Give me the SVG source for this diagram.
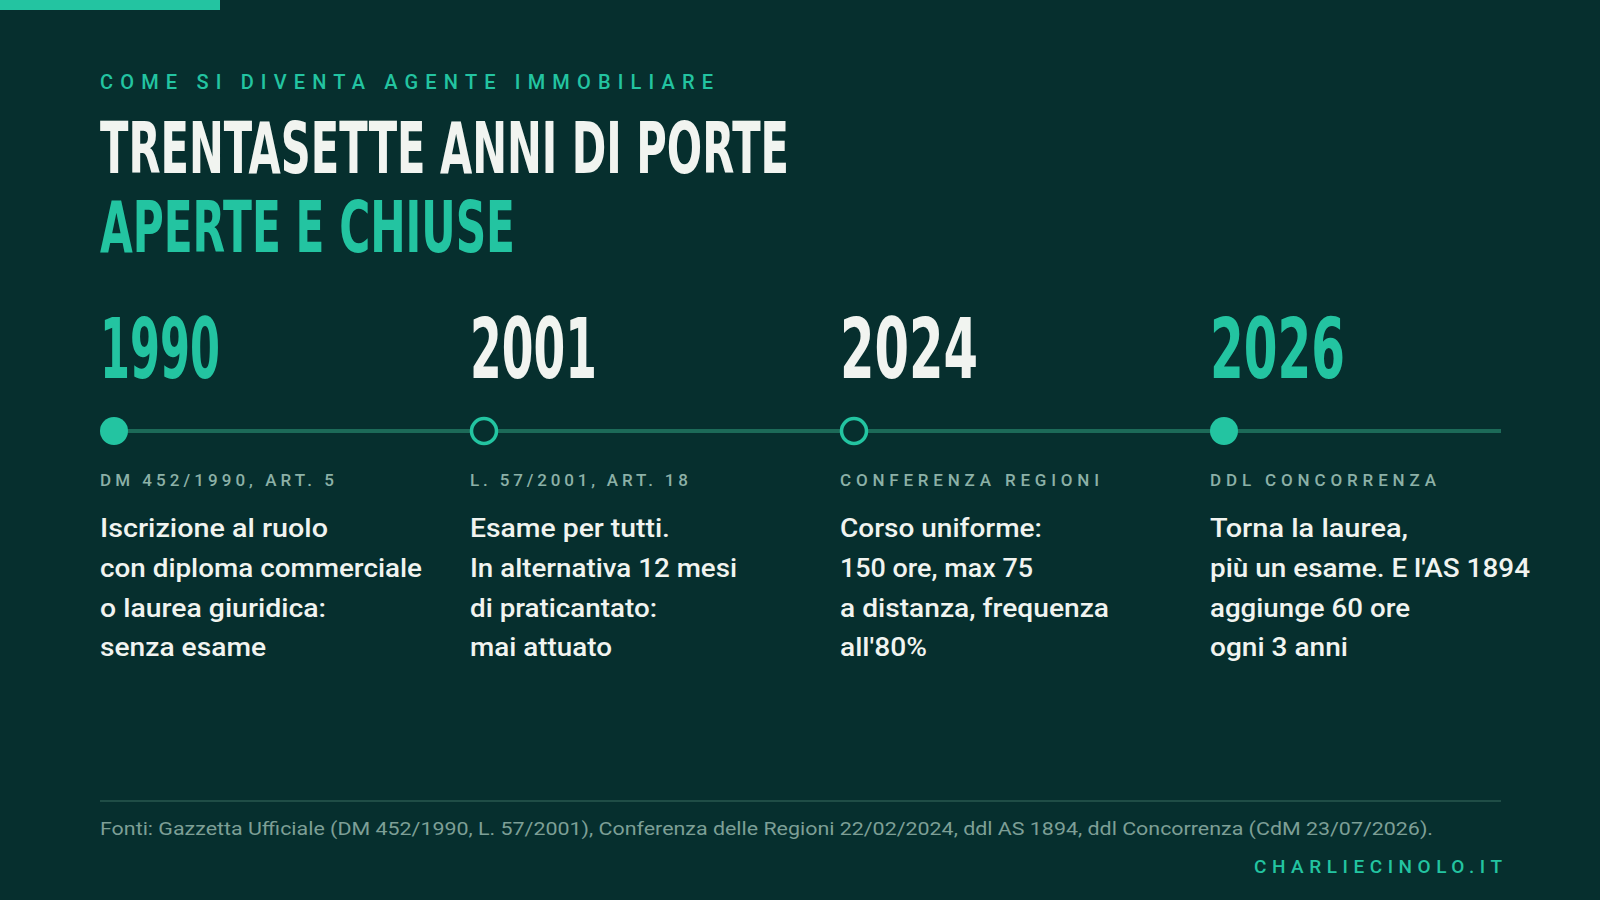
<svg xmlns="http://www.w3.org/2000/svg" width="1600" height="900" viewBox="0 0 1600 900">
  <defs>
    <style>
      .bg { fill: #062f2e; }
      .accent { fill: #23c4a1; }
      .white { fill: #f1f4f0; }
      .head { font-family: "Liberation Sans Narrow", "DejaVu Sans Condensed", "Roboto", sans-serif; font-weight: 700; }
      .kicker { font-family: "Roboto", "DejaVu Sans", sans-serif; font-size: 20px; font-weight: 500; fill: #23c4a1; }
      .title { font-size: 72px; }
      .year { font-size: 84px; }
      .label { font-family: "Roboto", "DejaVu Sans", sans-serif; font-size: 17px; font-weight: 500; fill: #8cb1a7; }
      .body { font-family: "Roboto", "DejaVu Sans", sans-serif; font-size: 26px; font-weight: 500; fill: #f1f4f0; }
      .src { font-family: "Roboto", "DejaVu Sans", sans-serif; font-size: 19px; fill: #7d9f96; }
      .brand { font-family: "Roboto", "DejaVu Sans", sans-serif; font-size: 19px; font-weight: 500; fill: #23c4a1; }
      .track { stroke: #1c6a58; stroke-width: 4; fill: none; }
      .rule { stroke: #1f4d46; stroke-width: 2; }
      .dot { fill: #23c4a1; }
      .ring { fill: #062f2e; stroke: #23c4a1; stroke-width: 3.5; }
    </style>
  </defs>

  <rect class="bg" x="0" y="0" width="1600" height="900"/>
  <rect class="accent" x="0" y="0" width="220" height="10"/>

  <g id="header">
    <text class="kicker" x="100" y="89" textLength="613">COME SI DIVENTA AGENTE IMMOBILIARE</text>
    <text class="head title white" x="100" y="173" textLength="689" lengthAdjust="spacingAndGlyphs">TRENTASETTE ANNI DI PORTE</text>
    <text class="head title accent" x="100" y="252" textLength="415" lengthAdjust="spacingAndGlyphs">APERTE E CHIUSE</text>
  </g>

  <g id="connectors">
    <line class="track" x1="114" y1="431" x2="1501" y2="431"/>
  </g>

  <g id="node-1990">
    <text class="head year accent" x="100" y="378" textLength="120" lengthAdjust="spacingAndGlyphs">1990</text>
    <circle class="dot" cx="114" cy="431" r="14"/>
    <text class="label" x="100" y="486" textLength="234">DM 452/1990, ART. 5</text>
    <text class="body" x="100" y="537" textLength="228" lengthAdjust="spacingAndGlyphs">Iscrizione al ruolo</text>
    <text class="body" x="100" y="577" textLength="322" lengthAdjust="spacingAndGlyphs">con diploma commerciale</text>
    <text class="body" x="100" y="617" textLength="226" lengthAdjust="spacingAndGlyphs">o laurea giuridica:</text>
    <text class="body" x="100" y="656" textLength="166" lengthAdjust="spacingAndGlyphs">senza esame</text>
  </g>

  <g id="node-2001">
    <text class="head year white" x="470" y="378" textLength="127" lengthAdjust="spacingAndGlyphs">2001</text>
    <circle class="ring" cx="484" cy="431" r="12.5"/>
    <text class="label" x="470" y="486" textLength="218">L. 57/2001, ART. 18</text>
    <text class="body" x="470" y="537" textLength="200" lengthAdjust="spacingAndGlyphs">Esame per tutti.</text>
    <text class="body" x="470" y="577" textLength="267" lengthAdjust="spacingAndGlyphs">In alternativa 12 mesi</text>
    <text class="body" x="470" y="617" textLength="187" lengthAdjust="spacingAndGlyphs">di praticantato:</text>
    <text class="body" x="470" y="656" textLength="142" lengthAdjust="spacingAndGlyphs">mai attuato</text>
  </g>

  <g id="node-2024">
    <text class="head year white" x="840" y="378" textLength="138" lengthAdjust="spacingAndGlyphs">2024</text>
    <circle class="ring" cx="854" cy="431" r="12.5"/>
    <text class="label" x="840" y="486" textLength="259">CONFERENZA REGIONI</text>
    <text class="body" x="840" y="537" textLength="202" lengthAdjust="spacingAndGlyphs">Corso uniforme:</text>
    <text class="body" x="840" y="577" textLength="193" lengthAdjust="spacingAndGlyphs">150 ore, max 75</text>
    <text class="body" x="840" y="617" textLength="269" lengthAdjust="spacingAndGlyphs">a distanza, frequenza</text>
    <text class="body" x="840" y="656" textLength="87" lengthAdjust="spacingAndGlyphs">all'80%</text>
  </g>

  <g id="node-2026">
    <text class="head year accent" x="1210" y="378" textLength="135" lengthAdjust="spacingAndGlyphs">2026</text>
    <circle class="dot" cx="1224" cy="431" r="14"/>
    <text class="label" x="1210" y="486" textLength="226">DDL CONCORRENZA</text>
    <text class="body" x="1210" y="537" textLength="198" lengthAdjust="spacingAndGlyphs">Torna la laurea,</text>
    <text class="body" x="1210" y="577" textLength="320" lengthAdjust="spacingAndGlyphs">più un esame. E l'AS 1894</text>
    <text class="body" x="1210" y="617" textLength="200" lengthAdjust="spacingAndGlyphs">aggiunge 60 ore</text>
    <text class="body" x="1210" y="656" textLength="138" lengthAdjust="spacingAndGlyphs">ogni 3 anni</text>
  </g>

  <g id="footer">
    <line class="rule" x1="100" y1="801" x2="1501" y2="801"/>
    <text class="src" x="100" y="835" textLength="1333" lengthAdjust="spacingAndGlyphs">Fonti: Gazzetta Ufficiale (DM 452/1990, L. 57/2001), Conferenza delle Regioni 22/02/2024, ddl AS 1894, ddl Concorrenza (CdM 23/07/2026).</text>
    <text class="brand" x="1254" y="873" textLength="248">CHARLIECINOLO.IT</text>
  </g>
</svg>
